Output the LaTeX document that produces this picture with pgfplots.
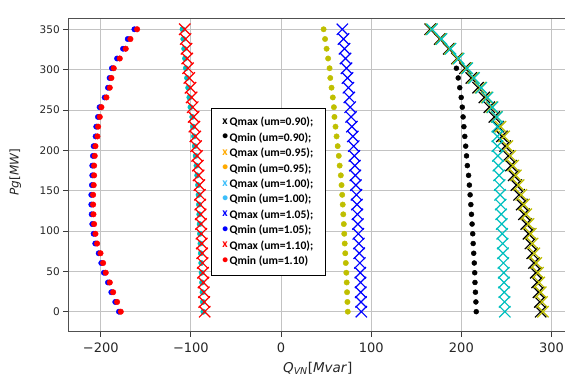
\documentclass[border=0pt]{standalone}
\usepackage{fontspec}
\setmainfont{DejaVu Sans}
\newfontfamily\legfont{Carlito}
\usepackage{pgfplots}
\usepackage{pgfplotstable}
\pgfplotsset{compat=1.18}
\definecolor{myY}{rgb}{0.75,0.75,0}
\definecolor{myC}{rgb}{0,0.75,0.75}
\definecolor{legO}{RGB}{255,170,0}
\definecolor{legC}{RGB}{60,190,250}
\definecolor{gridc}{RGB}{195,195,195}
\definecolor{axc}{RGB}{80,80,80}
\definecolor{tickc}{RGB}{60,60,60}

\pgfplotstableread{
y      kmax   kmin   ymax   ymin  cmax   cmin    bmax  bmin    rmax    rmin
0      288    216.5  290.5  74.0  248.2  -86.2   89.0  -179.8  -84.7   -177.8
12.07  287    216.1  289.5  73.6  247.9  -86.7   88.7  -183.9  -85.2   -181.9
24.14  285.5  215.6  288    73.2  247.6  -87.1   88.4  -188.3  -85.6   -186.3
36.21  284    215.1  286.5  72.8  247.3  -87.6   88.2  -192.0  -86.1   -190.0
48.28  282.5  214.8  285    72.4  247.0  -88.1   87.9  -196.5  -86.6   -194.5
60.34  280.5  214.3  283    71.8  246.6  -88.5   87.4  -199.4  -87.0   -197.4
72.41  278.5  213.7  281    71.2  246.2  -89.0   86.8  -202.3  -87.5   -200.3
84.48  276.5  213.1  279    70.6  245.8  -89.4   86.3  -206.1  -87.9   -204.1
96.55  274.5  212.6  277    70.1  245.3  -89.9   85.7  -207.9  -88.4   -205.9
108.62 272    211.9  274.5  69.6  244.8  -90.3   85.2  -209.4  -88.8   -207.4
120.69 269.5  211.2  272    69.0  244.2  -90.7   84.7  -210.1  -89.2   -208.1
132.76 267    210.5  269.5  68.4  243.6  -91.1   84.2  -210.5  -89.6   -208.5
144.83 264    209.7  266.5  67.8  243.0  -91.5   83.6  -210.5  -90.0   -208.5
156.90 261    208.9  263.5  67.1  242.5  -92.1   83.0  -209.8  -90.6   -207.8
168.97 258    208.0  260.5  66.3  241.8  -93.0   82.4  -209.4  -91.5   -207.4
181.03 255    206.6  257.5  65.0  241.0  -93.8   81.8  -209.4  -92.3   -207.4
193.10 252    205.7  254.5  64.0  240.5  -94.7   81.3  -208.7  -93.2   -206.7
205.17 248.5  204.8  251    62.8  240.0  -95.7   80.6  -207.9  -94.2   -205.9
217.24 245    203.8  247.5  61.6  240.0  -96.6   79.6  -205.7  -95.1   -203.7
229.31 241    202.8  243.5  60.4  240.0  -97.6   78.6  -205.0  -96.1   -203.0
241.38 236.5  201.9  239    59.2  239.5  -98.5   77.6  -203.1  -97.0   -201.1
253.45 231    201.0  233.5  58.6  234.5  -100.5  76.7  -201.3  -98.0   -199.3
265.52 225.5  199.8  228    57.4  229.0  -101.7  75.7  -195.7  -99.2   -193.7
277.59 218.5  198.2  221    56.0  222.0  -103.0  74.7  -192.0  -100.5  -190.0
289.66 211    196.5  213    54.6  214.0  -104.3  73.7  -190.2  -101.8  -188.2
301.72 204    194.5  205.5  53.8  206.5  -105.6  72.6  -187.6  -103.1  -185.6
313.79 195    nan    196    52.2  197.0  -106.5  71.5  -181.9  -104.0  -178.9
325.86 186    nan    187    50.5  188.0  -107.4  70.4  -175.3  -104.9  -172.3
337.93 176    nan    177    48.8  178.0  -108.4  69.2  -170.1  -105.9  -167.1
350    165.5  nan    166.5  47.2  167.5  -109.3  68.0  -162.7  -106.8  -159.7
}\datatable

\begin{document}
\begin{tikzpicture}
\begin{axis}[
  width=499pt, height=313.4pt, scale only axis,
  xmin=-236, xmax=317.5, ymin=-24.8, ymax=363.6,
  xtick={-200,-100,0,100,200,300},
  xticklabels={−200,−100,0,100,200,300},
  ytick={0,50,100,150,200,250,300,350},
  yticklabels={0,50,100,150,200,250,300,350},
  tick align=outside, tick pos=left, major tick length=5pt,
  grid=major, grid style={gridc, line width=0.9pt},
  axis line style={axc, line width=1.2pt},
  tick style={tickc, line width=0.9pt},
  x tick label style={font=\fontsize{13}{13}\selectfont, text=black!85, yshift=-3pt},
  y tick label style={font=\fontsize{10.5}{10.5}\selectfont, text=black!85},
  xlabel={\textit{Q}\textsubscript{\textit{VN}}[\textit{Mvar}]},
  xlabel style={font=\fontsize{13.5}{14}\selectfont, text=black!85, at={(axis description cs:0.5,0)}, anchor=base, yshift=-41pt},
  ylabel={\textit{Pg}[\textit{MW}]},
  ylabel style={font=\fontsize{12}{13}\selectfont, text=black!85, at={(axis description cs:0,0.51)}, anchor=center, yshift=53pt},
  legend style={at={(rel axis cs:0.286,0.714)}, anchor=north west, draw=black, line width=0.8pt, fill=white,
    font=\legfont\bfseries\fontsize{11.6}{11.6}\selectfont, row sep=3.3pt, inner xsep=11pt, inner ysep=8pt,
    nodes={inner xsep=1.5pt, inner ysep=1pt}},
  legend cell align=left,
]
% plots
\addplot[only marks, mark=x, mark size=8pt, black, mark options={line width=1.2pt}, forget plot] table[x=kmax, y=y] {\datatable};
\addplot[only marks, mark=*, mark size=2.5pt, black, forget plot] table[x=kmin, y=y] {\datatable};
\addplot[only marks, mark=x, mark size=8pt, myY, mark options={line width=1.2pt}, forget plot] table[x=ymax, y=y] {\datatable};
\addplot[only marks, mark=*, mark size=2.7pt, myY, forget plot] table[x=ymin, y=y] {\datatable};
\addplot[only marks, mark=x, mark size=8pt, myC, mark options={line width=1.2pt}, forget plot] table[x=cmax, y=y] {\datatable};
\addplot[only marks, mark=*, mark size=2.7pt, myC, forget plot] table[x=cmin, y=y] {\datatable};
\addplot[only marks, mark=x, mark size=8pt, blue, mark options={line width=1.2pt}, forget plot] table[x=bmax, y=y] {\datatable};
\addplot[only marks, mark=*, mark size=2.7pt, blue, forget plot] table[x=bmin, y=y] {\datatable};
\addplot[only marks, mark=x, mark size=8pt, red, mark options={line width=1.2pt}, forget plot] table[x=rmax, y=y] {\datatable};
\addplot[only marks, mark=*, mark size=2.8pt, red, forget plot] table[x=rmin, y=y] {\datatable};
% legend
\addlegendimage{legend image code/.code={\node[inner sep=0pt, text=black] at (0.12cm,0) {x};}}
\addlegendentry{Qmax (um=0.90);}
\addlegendimage{legend image code/.code={\node[inner sep=0pt, text=black] at (0.12cm,0) {•};}}
\addlegendentry{Qmin (um=0.90);}
\addlegendimage{legend image code/.code={\node[inner sep=0pt, text=legO] at (0.12cm,0) {x};}}
\addlegendentry{Qmax (um=0.95);}
\addlegendimage{legend image code/.code={\node[inner sep=0pt, text=legO] at (0.12cm,0) {•};}}
\addlegendentry{Qmin (um=0.95);}
\addlegendimage{legend image code/.code={\node[inner sep=0pt, text=legC] at (0.12cm,0) {x};}}
\addlegendentry{Qmax (um=1.00);}
\addlegendimage{legend image code/.code={\node[inner sep=0pt, text=legC] at (0.12cm,0) {•};}}
\addlegendentry{Qmin (um=1.00);}
\addlegendimage{legend image code/.code={\node[inner sep=0pt, text=blue] at (0.12cm,0) {x};}}
\addlegendentry{Qmax (um=1.05);}
\addlegendimage{legend image code/.code={\node[inner sep=0pt, text=blue] at (0.12cm,0) {•};}}
\addlegendentry{Qmin (um=1.05);}
\addlegendimage{legend image code/.code={\node[inner sep=0pt, text=red] at (0.12cm,0) {x};}}
\addlegendentry{Qmax (um=1.10);}
\addlegendimage{legend image code/.code={\node[inner sep=0pt, text=red] at (0.12cm,0) {•};}}
\addlegendentry{Qmin (um=1.10)}
\end{axis}
\pgfresetboundingbox
\path ([shift={(-68.3pt,-46.3pt)}]current axis.south west) rectangle ([shift={(-2.3pt,18.3pt)}]current axis.north east);
\end{tikzpicture}
\end{document}
